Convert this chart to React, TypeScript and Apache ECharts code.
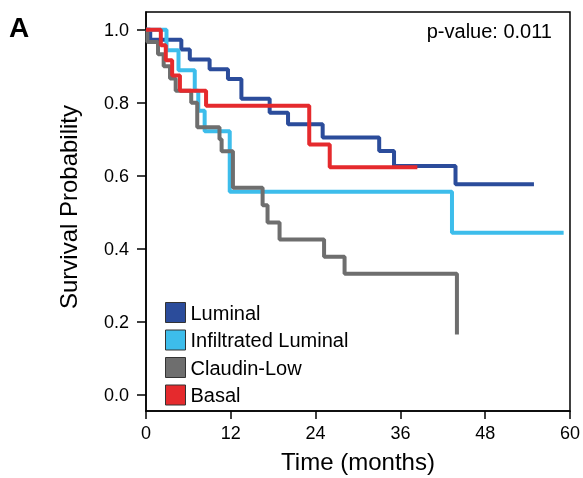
import React, { useEffect, useRef } from "react";
import * as echarts from "echarts";

const seriesNames = ["Luminal", "Infiltrated Luminal", "Claudin-Low", "Basal"];
const seriesColors = ["#2b4c9b", "#3dbdeb", "#6e6e6e", "#e52a2d"];

const luminalTimes = [0, 0.6, 5.0, 6.2, 9.0, 11.6, 13.5, 17.5, 20.1, 25.0, 33.0, 35.1, 43.8, 54.9];
const luminalSurv = [1, 0.973, 0.946, 0.919, 0.892, 0.865, 0.811, 0.773, 0.741, 0.705, 0.668, 0.627, 0.577, 0.577];

const infLuminalTimes = [0, 2.9, 4.6, 6.9, 7.4, 8.3, 11.85, 43.3, 59.1];
const infLuminalSurv = [1, 0.944, 0.889, 0.833, 0.778, 0.722, 0.556, 0.444, 0.444];

const claudinTimes = [0, 0.2, 1.7, 2.5, 3.4, 4.2, 6.4, 7.25, 10.4, 10.7, 12.3, 16.5, 17.2, 18.9, 25.2, 28.1, 44.0];
const claudinSurv = [1, 0.967, 0.933, 0.9, 0.867, 0.833, 0.8, 0.733, 0.7, 0.667, 0.567, 0.519, 0.472, 0.425, 0.378, 0.331, 0.165];

const basalTimes = [0, 2.1, 2.8, 3.7, 4.8, 8.5, 23.1, 26.0, 38.4];
const basalSurv = [1, 0.958, 0.917, 0.875, 0.833, 0.792, 0.686, 0.623, 0.623];

const xTicks = [0, 12, 24, 36, 48, 60];
const yTicks = [0, 0.2, 0.4, 0.6, 0.8, 1.0];
const pValueText = "p-value: 0.011";
const panelLabel = "A";

const FONT = "'Liberation Sans', Arial, Helvetica, sans-serif";

export default function App() {
  const ref = useRef<HTMLDivElement>(null);
  useEffect(() => {
    if (!ref.current) return;
    const chart = echarts.init(ref.current, null, { renderer: "svg" });
    const toData = (t: number[], s: number[]) => t.map((v, i) => [v, s[i]]);
    const allData = [
      toData(luminalTimes, luminalSurv),
      toData(infLuminalTimes, infLuminalSurv),
      toData(claudinTimes, claudinSurv),
      toData(basalTimes, basalSurv),
    ];
    chart.setOption({
      animation: false,
      textStyle: { fontFamily: FONT },
      grid: {
        left: 146,
        top: 12,
        right: 11.5,
        bottom: 65,
        show: true,
        borderColor: "#000",
        borderWidth: 1.5,
        backgroundColor: "transparent",
      },
      legend: {
        orient: "vertical",
        left: 160,
        top: 297,
        icon: "rect",
        itemWidth: 20,
        itemHeight: 20,
        itemGap: 6.5,
        data: seriesNames,
        itemStyle: { borderColor: "#333", borderWidth: 1 },
        textStyle: { fontSize: 20, color: "#000", fontFamily: FONT, lineHeight: 20 },
      },
      xAxis: {
        type: "value",
        min: 0,
        max: 60,
        interval: 12,
        name: "Time (months)",
        nameLocation: "middle",
        nameGap: 38,
        nameTextStyle: { fontSize: 24, color: "#000", fontFamily: FONT },
        axisLine: { show: true, onZero: false, lineStyle: { color: "#000", width: 1.5 } },
        axisTick: { show: true, length: 8, lineStyle: { color: "#000", width: 1.5 }, customValues: xTicks },
        axisLabel: { fontSize: 18, color: "#000", margin: 13, customValues: xTicks },
        splitLine: { show: false },
      },
      yAxis: {
        type: "value",
        min: -0.045,
        max: 1.049,
        axisLine: { show: true, onZero: false, lineStyle: { color: "#000", width: 1.5 } },
        axisTick: { show: true, length: 9, lineStyle: { color: "#000", width: 1.5 }, customValues: yTicks },
        axisLabel: {
          fontSize: 18,
          color: "#000",
          margin: 17,
          customValues: yTicks,
          formatter: (v: number) => v.toFixed(1),
        },
        splitLine: { show: false },
      },
      graphic: [
        {
          type: "text",
          x: 68,
          y: 207,
          rotation: Math.PI / 2,
          style: {
            text: "Survival Probability",
            fontSize: 24,
            fontFamily: FONT,
            fill: "#000",
            textAlign: "center",
            textVerticalAlign: "middle",
          },
        },
        {
          type: "text",
          x: 552,
          y: 31,
          style: {
            text: pValueText,
            fontSize: 20,
            fontFamily: FONT,
            fill: "#000",
            textAlign: "right",
            textVerticalAlign: "middle",
          },
        },
        {
          type: "text",
          x: 9,
          y: 27,
          style: {
            text: panelLabel,
            fontSize: 28,
            fontWeight: "bold",
            fontFamily: FONT,
            fill: "#000",
            textAlign: "left",
            textVerticalAlign: "middle",
          },
        },
      ],
      series: seriesNames.map((name, i) => ({
        name,
        type: "line",
        step: "end",
        showSymbol: false,
        symbol: "none",
        color: seriesColors[i],
        itemStyle: { color: seriesColors[i] },
        lineStyle: { color: seriesColors[i], width: 4 },
        data: allData[i],
        z: 2 + i,
      })),
    });
    return () => chart.dispose();
  }, []);
  return <div ref={ref} style={{ position: "fixed", left: 0, top: 0, width: 583, height: 478 }} />;
}
